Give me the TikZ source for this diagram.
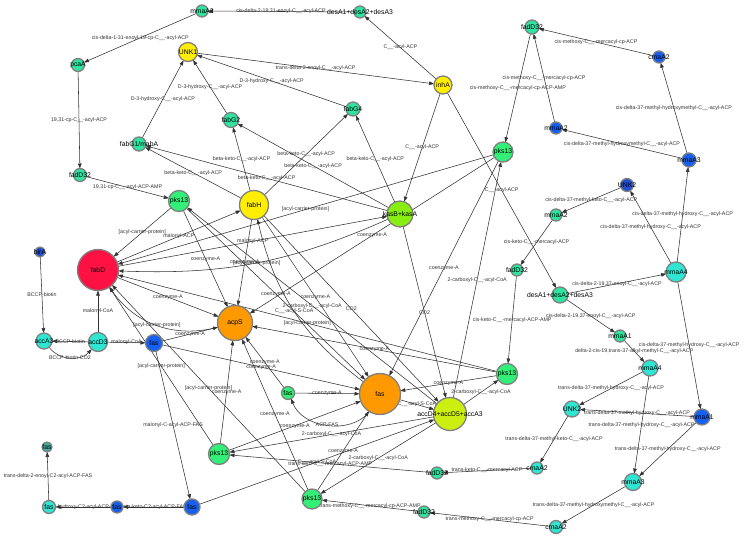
\documentclass[tikz,border=0pt]{standalone}
\usepackage{fontspec}
\setmainfont{Liberation Sans}
\usetikzlibrary{arrows.meta}
\definecolor{teal}{HTML}{2FE3A0}
\definecolor{cyn}{HTML}{2FE6D2}
\definecolor{tgray}{HTML}{40B0A0}
\definecolor{grn}{HTML}{33EE77}
\definecolor{blu}{HTML}{1560F0}
\definecolor{dblu}{HTML}{1F4FD0}
\definecolor{yel}{HTML}{FFEE00}
\definecolor{lime}{HTML}{88EE11}
\definecolor{ygr}{HTML}{CCEE11}
\definecolor{org}{HTML}{FF9900}
\definecolor{red}{HTML}{FF1144}
\definecolor{bord}{HTML}{808080}
\definecolor{edgec}{HTML}{333333}
\definecolor{labc}{HTML}{333333}
\pgfdeclarelayer{bg}
\pgfsetlayers{bg,main}
\tikzset{
  nd/.style={circle,draw=bord,line width=1.3pt,inner sep=0pt,outer sep=0pt},
  nl/.style={font=\fontsize{6.8}{7}\selectfont,inner sep=0pt,text=black},
  ed/.style={draw=edgec,line width=0.55pt,-{Triangle[length=5pt,width=3.6pt]}},
  el/.style={font=\fontsize{5.3}{5.5}\selectfont,inner sep=0pt,text=labc},
}
\newcommand\nod[6]{\node[nd,fill=#5,minimum size=#4pt] (#1) at (#2,#3) {};\node[nl] (#1t) at (#1) {#6};}
\newcommand\ed[3]{\draw[ed] (#1) -- node[el]{#3} (#2);}
\newcommand\edb[4]{\draw[ed] (#1) to[#4] node[el]{#3} (#2);}
\begin{document}
\begin{tikzpicture}[x=1pt,y=-1pt]
\begin{pgfonlayer}{bg}
\fill[white] (0,0) rectangle (744,538);
\end{pgfonlayer}
\useasboundingbox (0,0) rectangle (744,538);
\nod{mmaAa}{202}{11}{12}{teal}{mmaA2}
\nod{desAt}{360}{12}{12}{teal}{desA1+desA2+desA3}
\nod{unk}{188}{52}{19}{yel}{UNK1}
\nod{pcaA}{78}{65}{13}{teal}{pcaA}
\nod{inhA}{443}{85}{18}{yel}{inhA}
\nod{fadTR}{532}{27}{14}{teal}{fadD32}
\nod{cmaB}{659}{57}{12}{blu}{cmaA2}
\nod{fabGt}{231}{120}{15}{teal}{fabG2}
\nod{fabGf}{353}{109}{14}{teal}{fabG4}
\nod{mmaAb}{556}{128}{12}{blu}{mmaA2}
\nod{fabGo}{139}{144}{14}{teal}{fabG1/mabA}
\nod{pksTR}{503}{152}{20}{grn}{pks13}
\nod{mmaTb}{689}{160}{14}{blu}{mmaA3}
\nod{fadL}{80}{175}{13}{teal}{fadD32}
\nod{unkB}{627}{185}{13}{dblu}{UNK2}
\nod{pksL}{179}{201}{21}{grn}{pks13}
\nod{fabH}{254}{205}{29}{yel}{fabH}
\nod{kas}{400}{214}{26}{lime}{kasB+kasA}
\nod{mmaAc}{556}{215}{12}{teal}{mmaA2}
\nod{birA}{40}{252}{10}{dblu}{birA}
\nod{fabD}{98}{270}{41}{red}{fabD}
\nod{fadM}{517}{270}{12}{teal}{fadD32}
\nod{mmaFa}{676}{272}{20}{cyn}{mmaA4}
\nod{desAr}{560}{295}{16}{teal}{desA1+desA2+desA3}
\nod{acpS}{235}{323}{35}{org}{acpS}
\nod{mmaOa}{620}{336}{12}{teal}{mmaA1}
\nod{accA}{44}{341}{16}{cyn}{accA3}
\nod{accD}{98}{342}{19}{cyn}{accD3}
\nod{fasB}{154}{343}{17}{blu}{fas}
\nod{mmaFb}{650}{368}{16}{cyn}{mmaA4}
\nod{pksRM}{507}{374}{21}{grn}{pks13}
\nod{fasG}{288}{393}{13}{grn}{fas}
\nod{fasO}{380}{394}{41}{org}{fas}
\nod{acc}{450}{414}{33}{ygr}{accD4+accD5+accA3}
\nod{unkC}{572}{409}{16}{cyn}{UNK2}
\nod{mmaOb}{702}{417}{16}{blu}{mmaA1}
\nod{fasT}{47}{447}{10}{tgray}{fas}
\nod{pksBL}{219}{454}{21}{grn}{pks13}
\nod{cmaC}{537}{468}{12}{cyn}{cmaA2}
\nod{fadBM}{437}{473}{12}{teal}{fadD32}
\nod{mmaTc}{633}{482}{17}{cyn}{mmaA3}
\nod{pksB}{312}{499}{20}{grn}{pks13}
\nod{fasC}{49}{507}{13}{cyn}{fas}
\nod{fasS}{117}{507}{12}{blu}{fas}
\nod{fasBB}{192}{507}{16}{blu}{fas}
\nod{fadBB}{424}{512}{12}{teal}{fadD32}
\nod{cmaD}{556}{527}{13}{cyn}{cmaA2}
\begin{pgfonlayer}{bg}
\ed{desAt}{mmaAa}{cis-delta-2-19,31-enoyl-C\_\_-acyl-ACP}
\ed{mmaAa}{pcaA}{cis-delta-1-31-enoyl-19-cp-C\_\_-acyl-ACP}
\ed{pcaA}{fadL}{19,31-cp-C\_\_-acyl-ACP}
\ed{fadL}{pksL}{19,31-cp-C\_\_-acyl-ACP-AMP}
\ed{fabGo}{unk}{D-3-hydroxy-C\_\_-acyl-ACP}
\ed{fabGt}{unk}{D-3-hydroxy-C\_\_-acyl-ACP}
\ed{fabGf}{unk}{D-3-hydroxy-C\_\_-acyl-ACP}
\ed{unk}{inhA}{trans-delta-2-enoyl-C\_\_-acyl-ACP}
\ed{inhA}{desAt}{C\_\_-acyl-ACP}
\ed{inhA}{kas}{C\_\_-acyl-ACP}
\ed{inhA}{desAr}{C\_\_-acyl-ACP}
\ed{fabH}{fabGo}{beta-keto-C\_\_-acyl-ACP}
\ed{fabH}{fabGt}{beta-keto-C\_\_-acyl-ACP}
\ed{fabH}{fabGf}{beta-keto-C\_\_-acyl-ACP}
\ed{kas}{fabGo}{beta-keto-C\_\_-acyl-ACP}
\ed{kas}{fabGt}{beta-keto-C\_\_-acyl-ACP}
\ed{kas}{fabGf}{beta-keto-C\_\_-acyl-ACP}
\ed{fadTR}{pksTR}{cis-methoxy-C\_\_-mercacyl-cp-ACP-AMP}
\ed{cmaB}{fadTR}{cis-methoxy-C\_\_-mercacyl-cp-ACP}
\ed{mmaAb}{fadTR}{cis-methoxy-C\_\_-mercacyl-cp-ACP}
\ed{mmaTb}{cmaB}{cis-delta-37-methyl-hydroxymethyl-C\_\_-acyl-ACP}
\ed{mmaTb}{mmaAb}{cis-delta-37-methyl-hydroxymethyl-C\_\_-acyl-ACP}
\ed{mmaFa}{mmaTb}{cis-delta-37-methyl-hydroxy-C\_\_-acyl-ACP}
\ed{mmaFa}{unkB}{cis-delta-37-methyl-hydroxy-C\_\_-acyl-ACP}
\ed{mmaFa}{mmaOb}{cis-delta-37-methyl-hydroxy-C\_\_-acyl-ACP}
\ed{unkB}{mmaAc}{cis-delta-37-methyl-keto-C\_\_-acyl-ACP}
\ed{mmaAc}{fadM}{cis-keto-C\_\_-mercacyl-ACP}
\ed{fadM}{pksRM}{cis-keto-C\_\_-mercacyl-ACP-AMP}
\ed{desAr}{mmaFa}{cis-delta-2-19,37-enoyl-C\_\_-acyl-ACP}
\ed{desAr}{mmaOa}{cis-delta-2-19,37-enoyl-C\_\_-acyl-ACP}
\ed{mmaOa}{mmaFb}{delta-2-cis-19,trans-37-alkyl-methyl-C\_\_-acyl-ACP}
\ed{mmaFb}{unkC}{trans-delta-37-methyl-hydroxy-C\_\_-acyl-ACP}
\ed{mmaOb}{unkC}{trans-delta-37-methyl-hydroxy-C\_\_-acyl-ACP}
\ed{mmaFb}{mmaTc}{trans-delta-37-methyl-hydroxy-C\_\_-acyl-ACP}
\ed{mmaOb}{mmaTc}{trans-delta-37-methyl-hydroxy-C\_\_-acyl-ACP}
\ed{unkC}{cmaC}{trans-delta-37-methyl-keto-C\_\_-acyl-ACP}
\ed{mmaTc}{cmaD}{trans-delta-37-methyl-hydroxymethyl-C\_\_-acyl-ACP}
\ed{cmaC}{fadBM}{trans-keto-C\_\_-mercacyl-ACP}
\ed{cmaD}{fadBB}{trans-methoxy-C\_\_-mercacyl-cp-ACP}
\ed{fadBM}{pksBL}{trans-keto-C\_\_-mercacyl-ACP-AMP}
\ed{fadBB}{pksB}{trans-methoxy-C\_\_-mercacyl-cp-ACP-AMP}
\ed{birA}{accA}{BCCP-biotin}
\ed{accD}{accA}{BCCP-biotin}
\edb{accA}{accD}{BCCP-biotin-CO2}{bend right=50}
\ed{accD}{fabD}{malonyl-CoA}
\ed{accD}{fasB}{malonyl-CoA}
\ed{fabD}{fabH}{malonyl-ACP}
\ed{fabD}{kas}{malonyl-ACP}
\edb{kas}{fabD}{[acyl-carrier-protein]}{bend left=13}
\ed{fabD}{acpS}{coenzyme-A}
\edb{acpS}{fabD}{[acyl-carrier-protein]}{bend left=35}
\ed{fabH}{acpS}{coenzyme-A}
\edb{fasO}{fabH}{C\_\_-acyl-S-CoA}{bend left=20}
\ed{fabH}{fasO}{coenzyme-A}
\ed{fabH}{acc}{CO2}
\ed{kas}{acc}{CO2}
\ed{fasO}{acc}{C\_\_-acyl-S-CoA}
\ed{fasBB}{acc}{C\_\_-acyl-S-CoA}
\ed{fasB}{acpS}{coenzyme-A}
\ed{fasB}{fasO}{coenzyme-A}
\ed{fasG}{acpS}{coenzyme-A}
\ed{fasG}{fasO}{coenzyme-A}
\edb{fasO}{fasG}{ACP-FAS}{bend left=60}
\ed{fasB}{fasBB}{malonyl-C-acyl-ACP-FAS}
\ed{fasBB}{fasS}{beta-keto-C2-acyl-ACP-FAS}
\ed{fasS}{fasC}{beta-hydroxy-C2-acyl-ACP-FAS}
\ed{fasC}{fasT}{trans-delta-2-enoyl-C2-acyl-ACP-FAS}
\foreach \p in {pksL,pksTR,pksRM,pksBL,pksB}{
  \ed{\p}{fabD}{[acyl-carrier-protein]}
  \ed{\p}{acpS}{coenzyme-A}
  \ed{\p}{fasO}{coenzyme-A}
  \ed{acc}{\p}{2-carboxyl-C\_\_-acyl-CoA}
}
\end{pgfonlayer}
\end{tikzpicture}
\end{document}
